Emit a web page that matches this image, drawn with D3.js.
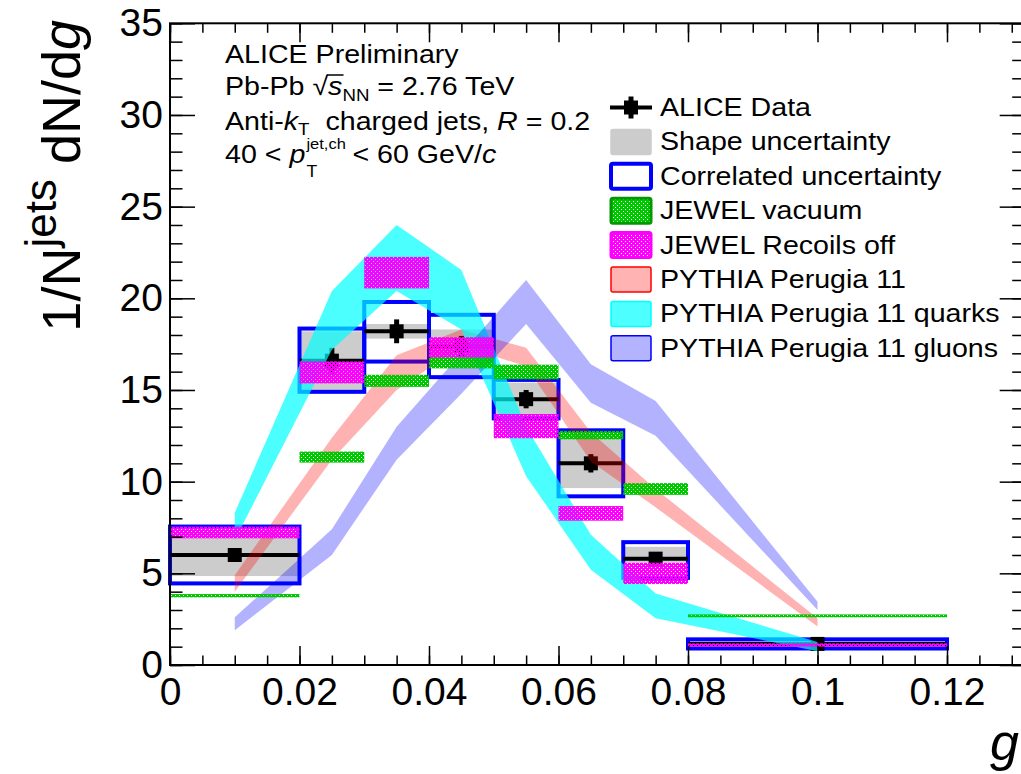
<!DOCTYPE html>
<html>
<head>
<meta charset="utf-8">
<script src="https://cdn.jsdelivr.net/npm/d3@7/dist/d3.min.js"></script>
<style>
  body { margin: 0; background: #fff; }
  text { font-family: "Liberation Sans", Arial, Helvetica, sans-serif; fill: #000; }
</style>
</head>
<body>
<svg id="chart" width="1021" height="774"></svg>
<script>
/////////////
// data
/////////////
var binLow = [0, 0.02, 0.03, 0.04, 0.05, 0.06, 0.07, 0.08];
var binHigh = [0.02, 0.03, 0.04, 0.05, 0.06, 0.07, 0.08, 0.12];
var binCenter = [0.01, 0.025, 0.035, 0.045, 0.055, 0.065, 0.075, 0.1];

var dataValue = [6.0, 16.6, 18.2, 17.4, 14.5, 11.0, 5.8, 1.15];
var statErr = [0.25, 0.7, 0.65, 0.55, 0.5, 0.5, 0.3, 0.35];
var shapeLow = [4.85, 15.0, 17.8, 16.7, 13.6, 9.65, 5.6, 1.0];
var shapeHigh = [7.2, 18.2, 18.6, 18.3, 15.4, 12.6, 6.45, 1.3];
var corrLow = [4.45, 14.9, 16.55, 15.7, 13.45, 9.2, 4.75, 0.9];
var corrHigh = [7.55, 18.35, 19.8, 19.1, 15.55, 12.8, 6.7, 1.4];

var jewelVacValue = [3.78, 11.34, 15.5, 16.5, 15.98, 12.54, 9.6, 2.68];
var jewelVacErr = [0.09, 0.3, 0.33, 0.32, 0.4, 0.23, 0.32, 0.08];
var jewelRecValue = [7.23, 15.96, 21.4, 17.33, 13.03, 8.27, 5.0, 1.09];
var jewelRecErr = [0.32, 0.6, 0.86, 0.55, 0.66, 0.4, 0.58, 0.09];

var pythiaX = [0.01, 0.025, 0.035, 0.045, 0.055, 0.065, 0.075, 0.1];
var pythiaLow = [4.0, 11.2, 15.0, 17.4, 16.3, 11.1, 8.6, 2.1];
var pythiaHigh = [4.9, 12.4, 16.9, 18.3, 17.3, 12.7, 9.6, 2.55];
var quarkLow = [6.8, 17.2, 20.4, 18.3, 10.3, 5.2, 2.55, 0.75];
var quarkHigh = [8.3, 20.4, 24.0, 21.55, 13.0, 7.1, 3.9, 1.25];
var gluonLow = [1.9, 6.0, 11.2, 14.8, 18.6, 14.3, 12.5, 3.0];
var gluonHigh = [2.6, 7.4, 13.0, 17.0, 21.0, 16.4, 14.4, 3.45];

var xTicks = [0, 0.02, 0.04, 0.06, 0.08, 0.1, 0.12];
var xTickLabels = ["0", "0.02", "0.04", "0.06", "0.08", "0.1", "0.12"];
var yTicks = [0, 5, 10, 15, 20, 25, 30, 35];

var legendLabels = [
  "ALICE Data",
  "Shape uncertainty",
  "Correlated uncertainty",
  "JEWEL vacuum",
  "JEWEL Recoils off",
  "PYTHIA Perugia 11",
  "PYTHIA Perugia 11 quarks",
  "PYTHIA Perugia 11 gluons"
];

/////////////
// scales
/////////////
var svg = d3.select("#chart");
var x = d3.scaleLinear().domain([0, 0.132]).range([170, 170 + 0.132 * 6475]);
var y = d3.scaleLinear().domain([0, 35]).range([665, 23.3]);

var defs = svg.append("defs");
function hatch(id, color) {
  defs.append("pattern")
    .attr("id", id)
    .attr("patternUnits", "userSpaceOnUse")
    .attr("width", 4)
    .attr("height", 4)
    .append("path")
    .attr("d", "M0,0h4v4h-4z M1,1h1v1h-1z M3,3h1v1h-1z")
    .attr("fill-rule", "evenodd")
    .attr("fill", color);
}
hatch("hatchGreen", "#00c800");
hatch("hatchMagenta", "#ff00ff");

/////////////
// ALICE data: shape + correlated boxes, points
/////////////
var bins = d3.range(binLow.length);
var dataLayer = svg.append("g");

dataLayer.selectAll("rect.shape")
  .data(bins).enter().append("rect")
  .attr("class", "shape")
  .attr("x", function(i) { return x(binLow[i]); })
  .attr("width", function(i) { return x(binHigh[i]) - x(binLow[i]); })
  .attr("y", function(i) { return y(shapeHigh[i]); })
  .attr("height", function(i) { return y(shapeLow[i]) - y(shapeHigh[i]); })
  .attr("fill", "#cccccc");

dataLayer.selectAll("rect.corr")
  .data(bins).enter().append("rect")
  .attr("class", "corr")
  .attr("x", function(i) { return x(binLow[i]); })
  .attr("width", function(i) { return x(binHigh[i]) - x(binLow[i]); })
  .attr("y", function(i) { return y(corrHigh[i]); })
  .attr("height", function(i) { return y(corrLow[i]) - y(corrHigh[i]); })
  .attr("fill", "none")
  .attr("stroke", "#0000ff")
  .attr("stroke-width", 4);

dataLayer.selectAll("line.xerr")
  .data(bins).enter().append("line")
  .attr("x1", function(i) { return x(binLow[i]); })
  .attr("x2", function(i) { return x(binHigh[i]); })
  .attr("y1", function(i) { return y(dataValue[i]); })
  .attr("y2", function(i) { return y(dataValue[i]); })
  .attr("stroke", "#000").attr("stroke-width", 4);

dataLayer.selectAll("line.yerr")
  .data(bins).enter().append("line")
  .attr("x1", function(i) { return x(binCenter[i]); })
  .attr("x2", function(i) { return x(binCenter[i]); })
  .attr("y1", function(i) { return y(dataValue[i] + statErr[i]); })
  .attr("y2", function(i) { return y(dataValue[i] - statErr[i]); })
  .attr("stroke", "#000").attr("stroke-width", 5);

dataLayer.selectAll("rect.marker")
  .data(bins).enter().append("rect")
  .attr("x", function(i) { return x(binCenter[i]) - 7; })
  .attr("y", function(i) { return y(dataValue[i]) - 7; })
  .attr("width", 14).attr("height", 14)
  .attr("fill", "#000");

/////////////
// PYTHIA bands
/////////////
function band(low, high, color, opacity) {
  var rows = pythiaX.map(function(g, i) { return { g: g, lo: low[i], hi: high[i] }; });
  var area = d3.area()
    .x(function(d) { return x(d.g); })
    .y0(function(d) { return y(d.lo); })
    .y1(function(d) { return y(d.hi); });
  svg.append("path")
    .datum(rows)
    .attr("d", area)
    .attr("fill", color)
    .attr("fill-opacity", opacity);
}
band(pythiaLow, pythiaHigh, "#ff0000", 0.3);
band(quarkLow, quarkHigh, "#00ffff", 0.7);
band(gluonLow, gluonHigh, "#0000ff", 0.3);

/////////////
// JEWEL boxes
/////////////
function jewel(values, errs, fill) {
  svg.append("g").selectAll("rect")
    .data(bins).enter().append("rect")
    .attr("x", function(i) { return x(binLow[i]); })
    .attr("width", function(i) { return x(binHigh[i]) - x(binLow[i]); })
    .attr("y", function(i) { return y(values[i] + errs[i]); })
    .attr("height", function(i) { return y(values[i] - errs[i]) - y(values[i] + errs[i]); })
    .attr("fill", fill);
}
jewel(jewelVacValue, jewelVacErr, "url(#hatchGreen)");
jewel(jewelRecValue, jewelRecErr, "url(#hatchMagenta)");

/////////////
// axes
/////////////
var xMinor = d3.range(0, 27).map(function(k) { return k * 0.005; });
var yMinor = d3.range(0, 36);

function styleAxis(g) {
  g.select(".domain").remove();
  g.selectAll("line").attr("stroke", "#000").attr("stroke-width", 1.5);
  g.selectAll("text").attr("font-size", 39).attr("font-family", "Liberation Sans, Arial, sans-serif");
}

svg.append("g").attr("transform", "translate(0,665)")
  .call(d3.axisBottom(x).tickValues(xMinor).tickSize(-9.5).tickFormat(""))
  .call(styleAxis);
svg.append("g").attr("transform", "translate(0,665)")
  .call(d3.axisBottom(x).tickValues(xTicks).tickSize(-19).tickPadding(12)
    .tickFormat(function(d, i) { return xTickLabels[i]; }))
  .call(styleAxis);
svg.append("g").attr("transform", "translate(0,23.3)")
  .call(d3.axisTop(x).tickValues(xMinor).tickSize(-9.5).tickFormat(""))
  .call(styleAxis);
svg.append("g").attr("transform", "translate(0,23.3)")
  .call(d3.axisTop(x).tickValues(xTicks).tickSize(-19).tickFormat(""))
  .call(styleAxis);

svg.append("g").attr("transform", "translate(170,0)")
  .call(d3.axisLeft(y).tickValues(yMinor).tickSize(-12.5).tickFormat(""))
  .call(styleAxis);
svg.append("g").attr("transform", "translate(170,0)")
  .call(d3.axisLeft(y).tickValues(yTicks).tickSize(-25).tickPadding(7).tickFormat(d3.format("d")))
  .call(styleAxis);
svg.append("g").attr("transform", "translate(" + x(0.132) + ",0)")
  .call(d3.axisRight(y).tickValues(yMinor).tickSize(-12.5).tickFormat(""))
  .call(styleAxis);
svg.append("g").attr("transform", "translate(" + x(0.132) + ",0)")
  .call(d3.axisRight(y).tickValues(yTicks).tickSize(-25).tickFormat(""))
  .call(styleAxis);

svg.append("rect")
  .attr("x", 170).attr("y", y(35))
  .attr("width", x(0.132) - 170).attr("height", y(0) - y(35))
  .attr("fill", "none").attr("stroke", "#000").attr("stroke-width", 2);

// axis titles
var yTitle = svg.append("text")
  .attr("transform", "translate(80,20) rotate(-90)")
  .attr("text-anchor", "end")
  .attr("font-size", 54);
yTitle.append("tspan").text("1/N");
yTitle.append("tspan").attr("font-size", 44).attr("dy", -24).text("jets");
yTitle.append("tspan").attr("dy", 24).text(" dN/d");
yTitle.append("tspan").attr("font-style", "italic").text("g");

svg.append("text")
  .attr("x", 1019).attr("y", 760)
  .attr("text-anchor", "end")
  .attr("font-size", 52)
  .attr("font-style", "italic")
  .text("g");

/////////////
// labels top left (glyphs of the original are a bit wider, hence the x stretch)
/////////////
var fs = 26;
var stretch = 1.1;
var info = svg.append("g").attr("transform", "translate(225,0) scale(" + stretch + ",1)");

info.append("text").attr("x", 0).attr("y", 63).attr("font-size", fs).text("ALICE Preliminary");

var l2 = info.append("text").attr("x", 0).attr("y", 95).attr("font-size", fs);
l2.append("tspan").text("Pb-Pb ");
l2.append("tspan").text("\u221A");
l2.append("tspan").attr("font-style", "italic").text("s");
l2.append("tspan").attr("font-size", 17).attr("dy", 6).text("NN");
l2.append("tspan").attr("dy", -6).text(" = 2.76 TeV");
var sStart = l2.node().getStartPositionOfChar(7).x;
var sEnd = l2.node().getEndPositionOfChar(7).x;
info.append("line")
  .attr("x1", sStart - 1).attr("x2", sEnd + 1)
  .attr("y1", 95 - 20).attr("y2", 95 - 20)
  .attr("stroke", "#000").attr("stroke-width", 1.5);

var l3 = info.append("text").attr("x", 0).attr("y", 130).attr("font-size", fs);
l3.append("tspan").text("Anti-");
l3.append("tspan").attr("font-style", "italic").text("k");
l3.append("tspan").attr("font-size", 17).attr("dy", 5).text("T");
l3.append("tspan").attr("dy", -5).text("\u00A0 charged jets, ");
l3.append("tspan").attr("font-style", "italic").text("R");
l3.append("tspan").text(" = 0.2");

var l4a = info.append("text").attr("x", 0).attr("y", 163).attr("font-size", fs);
l4a.append("tspan").text("40 < ");
l4a.append("tspan").attr("font-style", "italic").text("p");
var l4x = l4a.node().getComputedTextLength() + 1;
var sup = info.append("text").attr("x", l4x).attr("y", 149).attr("font-size", 15).text("jet,ch");
info.append("text").attr("x", l4x).attr("y", 177).attr("font-size", 16).text("T");
info.append("text")
  .attr("x", l4x + sup.node().getComputedTextLength() + 6)
  .attr("y", 163).attr("font-size", fs)
  .call(function(t) {
    t.append("tspan").text("< 60 GeV/");
    t.append("tspan").attr("font-style", "italic").text("c");
  });

/////////////
// legend
/////////////
var legend = svg.append("g");
var legendTop = 94;
var legendStep = 34.4;

legendLabels.forEach(function(label, i) {
  var cy = legendTop + i * legendStep + 13.5;
  var row = legend.append("g");
  if (i === 0) {
    row.append("line").attr("x1", 610).attr("x2", 652).attr("y1", cy).attr("y2", cy)
      .attr("stroke", "#000").attr("stroke-width", 4);
    row.append("line").attr("x1", 631).attr("x2", 631).attr("y1", cy - 11).attr("y2", cy + 11)
      .attr("stroke", "#000").attr("stroke-width", 5);
    row.append("rect").attr("x", 624).attr("y", cy - 7).attr("width", 14).attr("height", 14)
      .attr("fill", "#000");
  } else {
    var fill, stroke, sw = 1.5;
    switch (i) {
      case 1: fill = "#cccccc"; stroke = "#cccccc"; break;
      case 2: fill = "#ffffff"; stroke = "#0000ff"; sw = 4; break;
      case 3: fill = "url(#hatchGreen)"; stroke = "#009900"; sw = 3; break;
      case 4: fill = "url(#hatchMagenta)"; stroke = "#ff00ff"; sw = 3; break;
      case 5: fill = "#ffb3b3"; stroke = "#ff0000"; break;
      case 6: fill = "#4dffff"; stroke = "#00ffff"; break;
      case 7: fill = "#b3b3ff"; stroke = "#0000ff"; break;
    }
    row.append("rect")
      .attr("x", 611).attr("y", cy - 12.5)
      .attr("width", 40).attr("height", 25)
      .attr("rx", 2)
      .attr("fill", fill).attr("stroke", stroke).attr("stroke-width", sw);
  }
  row.append("text")
    .attr("transform", "translate(660," + (cy + 8.5) + ") scale(" + stretch + ",1)")
    .attr("font-size", fs)
    .text(label);
});
</script>
</body>
</html>
